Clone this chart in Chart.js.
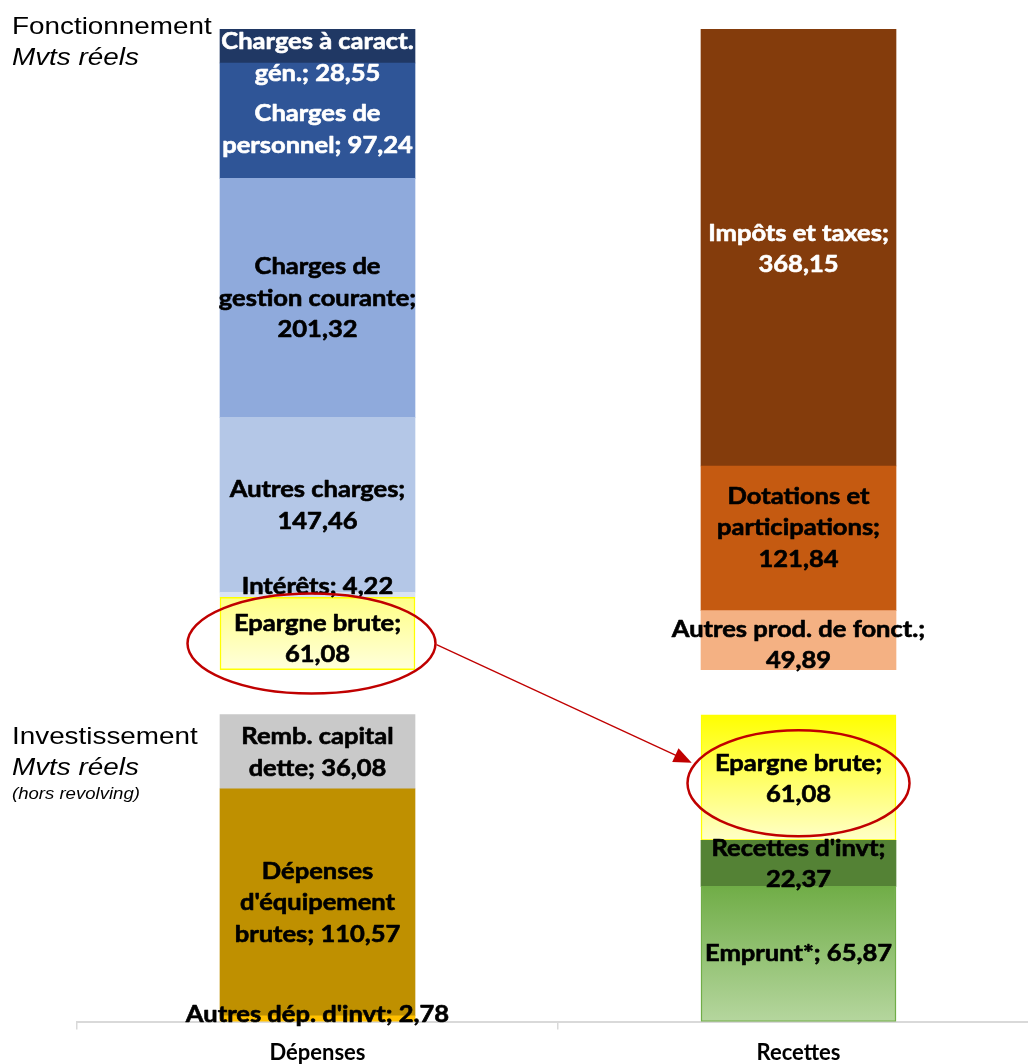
<!DOCTYPE html>
<html>
<head>
<meta charset="utf-8">
<script src="https://cdn.jsdelivr.net/npm/chart.js@4/dist/chart.umd.min.js"></script>
<style>
  html, body { margin: 0; padding: 0; overflow: hidden; background: #ffffff; width: 1028px; height: 1064px; }
  #wrap { position: absolute; left: 0; top: 0; width: 1040px; height: 1076px; }
</style>
</head>
<body>
<div id="wrap"><canvas id="chart"></canvas></div>
<script>
// ---------------- DATA ----------------
const categories = ['Dépenses', 'Recettes'];

// Fonctionnement (mouvements réels) – from bottom to top of each bar
const fonctDepensesSeries = ['Epargne brute', 'Intérêts', 'Autres charges', 'Charges de gestion courante', 'Charges de personnel', 'Charges à caract. gén.'];
const fonctDepensesValues = [61.08, 4.22, 147.46, 201.32, 97.24, 28.55];
const fonctRecettesSeries = ['Autres prod. de fonct.', 'Dotations et participations', 'Impôts et taxes'];
const fonctRecettesValues = [49.89, 121.84, 368.15];

// Investissement (mouvements réels, hors revolving) – from bottom to top
const invDepensesSeries = ["Autres dép. d'invt", "Dépenses d'équipement brutes", 'Remb. capital dette'];
const invDepensesValues = [2.78, 110.57, 36.08];
const invRecettesSeries = ['Emprunt*', "Recettes d'invt", 'Epargne brute'];
const invRecettesValues = [65.87, 22.37, 61.08];

// Section titles
const sectionTitles = [
  { text: 'Fonctionnement', style: 'normal', size: 24 },
  { text: 'Mvts réels', style: 'italic', size: 24 },
  { text: 'Investissement', style: 'normal', size: 24 },
  { text: 'Mvts réels', style: 'italic', size: 24 },
  { text: '(hors revolving)', style: 'italic', size: 16 }
];

// Label text layout ('|' = line break, {v} = value)
const labelTemplates = {
  'Epargne brute': 'Epargne brute;|{v}',
  'Intérêts': 'Intérêts; {v}',
  'Autres charges': 'Autres charges;|{v}',
  'Charges de gestion courante': 'Charges de|gestion courante;|{v}',
  'Charges de personnel': 'Charges de|personnel; {v}',
  'Charges à caract. gén.': 'Charges à caract.|gén.; {v}',
  'Autres prod. de fonct.': 'Autres prod. de fonct.;|{v}',
  'Dotations et participations': 'Dotations et|participations;|{v}',
  'Impôts et taxes': 'Impôts et taxes;|{v}',
  "Autres dép. d'invt": "Autres dép. d'invt; {v}",
  "Dépenses d'équipement brutes": "Dépenses|d'équipement|brutes; {v}",
  'Remb. capital dette': 'Remb. capital|dette; {v}',
  'Emprunt*': 'Emprunt*; {v}',
  "Recettes d'invt": "Recettes d'invt;|{v}"
};

// ---------------- STYLES ----------------
const styles = {
  FD: [
    { grad: ['#ffff85', '#ffffdc'], border: '#ffff00', bw: 1.5, text: '#000', dy: 6, ring: { dx: -6, dy: 10, rx: 124, ry: 50 } },
    { fill: '#dae3f3', text: '#000', dy: -8 },
    { fill: '#b4c7e7', text: '#000', dy: 1 },
    { fill: '#8faadc', text: '#000', dy: 1 },
    { fill: '#2f5597', text: '#fff', dy: 9 },
    { fill: '#203864', text: '#fff', dy: 12 }
  ],
  FR: [
    { fill: '#f4b183', text: '#000', dy: 5 },
    { fill: '#c55a11', text: '#000', dy: -10 },
    { fill: '#843c0c', text: '#fff', dy: 2 }
  ],
  ID: [
    { fill: '#ffc000', text: '#000', dy: -4 },
    { fill: '#bf9000', text: '#000', dy: 1 },
    { fill: '#c9c9c9', text: '#000', dy: 1 }
  ],
  IR: [
    { grad: ['#70ad47', '#b5d69e'], border: '#70ad47', bw: 1.5, text: '#000', dy: 0 },
    { fill: '#548235', text: '#000', dy: 1 },
    { grad: ['#ffff00', '#ffffc8'], border: '#ffff00', bw: 1.5, text: '#000', dy: 2, ring: { dx: 0, dy: 5.5, rx: 111, ry: 53 } }
  ]
};

const groups = [
  { key: 'FD', axis: 'yF', cat: 0, names: fonctDepensesSeries, values: fonctDepensesValues },
  { key: 'FR', axis: 'yF', cat: 1, names: fonctRecettesSeries, values: fonctRecettesValues },
  { key: 'ID', axis: 'yI', cat: 0, names: invDepensesSeries, values: invDepensesValues },
  { key: 'IR', axis: 'yI', cat: 1, names: invRecettesSeries, values: invRecettesValues }
];

function gradientFill(axisId, from, to, cTop, cBottom) {
  return (c) => {
    const chart = c.chart;
    const sc = chart.scales[axisId];
    if (!chart.chartArea || !sc) return cTop;
    const yTop = sc.getPixelForValue(to);
    const yBot = sc.getPixelForValue(from);
    if (!isFinite(yTop) || !isFinite(yBot)) return cTop;
    const g = chart.ctx.createLinearGradient(0, yTop, 0, yBot);
    g.addColorStop(0, cTop);
    g.addColorStop(1, cBottom);
    return g;
  };
}

const fmt = (v) => v.toFixed(2).replace('.', ',');

const datasets = [];
groups.forEach(g => {
  let cum = 0;
  g.names.forEach((name, k) => {
    const v = g.values[k];
    const st = styles[g.key][k];
    const from = cum, to = cum + v;
    cum = to;
    datasets.push({
      label: name,
      data: categories.map((_, ci) => (ci === g.cat ? v : null)),
      yAxisID: g.axis,
      stack: 'all',
      backgroundColor: st.grad ? gradientFill(g.axis, from, to, st.grad[0], st.grad[1]) : st.fill,
      borderColor: st.border || 'rgba(0,0,0,0)',
      borderWidth: st.bw || 0,
      borderSkipped: false,
      barThickness: 195,
      labelTpl: labelTemplates[name],
      labelColor: st.text,
      labelDy: st.dy || 0,
      ring: st.ring || null
    });
  });
});

// ---------------- PLUGINS ----------------
const TEXT_STRETCH = 1.16;

const segmentLabels = {
  id: 'segmentLabels',
  afterDatasetsDraw(chart) {
    const ctx = chart.ctx;
    ctx.save();
    ctx.font = 'bold 22px Lato, "Open Sans", sans-serif';
    ctx.textAlign = 'center';
    ctx.textBaseline = 'middle';
    ctx.lineJoin = 'round';
    const lh = 31.5;
    chart.data.datasets.forEach((ds, i) => {
      const meta = chart.getDatasetMeta(i);
      meta.data.forEach((el, j) => {
        const v = ds.data[j];
        if (v == null) return;
        const lines = ds.labelTpl.replace('{v}', fmt(v)).split('|');
        const cx = el.x;
        const cy = (el.y + el.base) / 2 + ds.labelDy;
        ctx.fillStyle = ds.labelColor;
        ctx.strokeStyle = ds.labelColor;
        ctx.lineWidth = 0.6;
        lines.forEach((ln, li) => {
          const y = cy + (li - (lines.length - 1) / 2) * lh;
          ctx.save();
          ctx.translate(cx, y);
          ctx.scale(TEXT_STRETCH, 1);
          ctx.fillText(ln, 0, 0);
          ctx.strokeText(ln, 0, 0);
          ctx.restore();
        });
      });
    });
    ctx.restore();
  }
};

const annotations = {
  id: 'annotations',
  afterDraw(chart) {
    const ctx = chart.ctx;
    // section titles (positioned relative to each axis' top)
    const yF = chart.scales.yF, yI = chart.scales.yI;
    const titleBase = [yF.top + 5, yF.top + 36, yI.top + 52, yI.top + 83, yI.top + 107];
    ctx.save();
    ctx.fillStyle = '#000';
    ctx.textAlign = 'left';
    ctx.textBaseline = 'alphabetic';
    sectionTitles.forEach((t, i) => {
      ctx.font = `${t.style} ${t.size}px "Liberation Sans", Arial, sans-serif`;
      ctx.save();
      ctx.translate(12, titleBase[i]);
      ctx.scale(TEXT_STRETCH, 1);
      ctx.fillText(t.text, 0, 0);
      ctx.restore();
    });
    ctx.restore();

    // red ellipses around "Epargne brute" + arrow
    const rings = [];
    chart.data.datasets.forEach((ds, i) => {
      if (!ds.ring) return;
      const meta = chart.getDatasetMeta(i);
      meta.data.forEach((el, j) => {
        if (ds.data[j] == null) return;
        rings.push({ x: el.x + ds.ring.dx, y: (el.y + el.base) / 2 + ds.ring.dy, rx: ds.ring.rx, ry: ds.ring.ry });
      });
    });
    ctx.save();
    ctx.strokeStyle = '#c00000';
    ctx.lineWidth = 2.5;
    rings.forEach(r => {
      ctx.beginPath();
      ctx.ellipse(r.x, r.y, r.rx, r.ry, 0, 0, Math.PI * 2);
      ctx.stroke();
    });
    if (rings.length === 2) {
      const a = rings[0], b = rings[1];
      const sx = a.x + a.rx + 1, sy = a.y + 1;
      const t = Math.PI + 0.38;
      let ex = b.x + (b.rx + 4) * Math.cos(t), ey = b.y + (b.ry + 2) * Math.sin(t);
      const dx = ex - sx, dy = ey - sy, len = Math.hypot(dx, dy);
      const ux = dx / len, uy = dy / len;
      const headLen = 18, headHalf = 7.5;
      ctx.lineWidth = 1.3;
      ctx.beginPath();
      ctx.moveTo(sx, sy);
      ctx.lineTo(ex - ux * headLen * 0.8, ey - uy * headLen * 0.8);
      ctx.stroke();
      ctx.fillStyle = '#c00000';
      ctx.beginPath();
      ctx.moveTo(ex, ey);
      ctx.lineTo(ex - ux * headLen - uy * headHalf, ey - uy * headLen + ux * headHalf);
      ctx.lineTo(ex - ux * headLen + uy * headHalf, ey - uy * headLen - ux * headHalf);
      ctx.closePath();
      ctx.fill();
    }
    ctx.restore();
  }
};

// ---------------- CHART ----------------
new Chart(document.getElementById('chart'), {
  type: 'bar',
  data: { labels: categories, datasets },
  options: {
    responsive: true,
    maintainAspectRatio: false,
    animation: false,
    devicePixelRatio: 1,
    layout: { padding: { top: 29, left: 77, right: 1, bottom: 0 } },
    plugins: { legend: { display: false }, tooltip: { enabled: false }, title: { display: false } },
    scales: {
      x: {
        stacked: true,
        grid: { display: true, drawOnChartArea: false, drawTicks: true, tickLength: 8, color: '#d9d9d9', lineWidth: 1.5, offset: true },
        border: { display: true, color: '#d9d9d9', width: 2 },
        ticks: { color: '#000', padding: 10, font: { family: 'Lato', weight: 'bold', size: 22, lineHeight: 1.2 } }
      },
      yI: { type: 'linear', position: 'left', display: false, stacked: true, stack: 'sections', stackWeight: 330, min: 0, max: 160.6 },
      yF: { type: 'linear', position: 'left', display: false, stacked: true, stack: 'sections', stackWeight: 663, min: -18.5, max: 540 }
    }
  },
  plugins: [segmentLabels, annotations]
});
</script>
</body>
</html>
